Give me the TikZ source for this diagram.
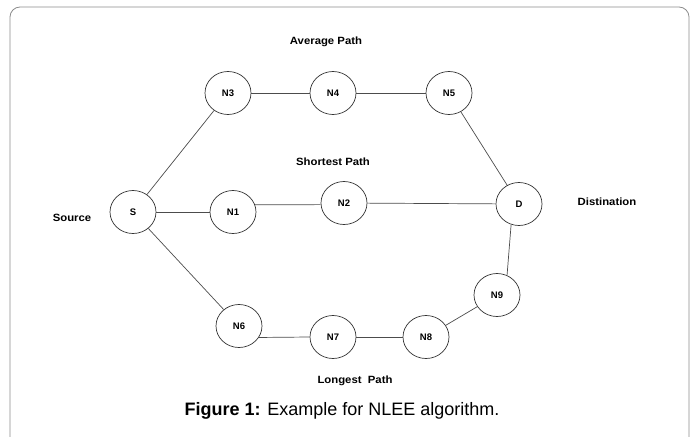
\documentclass[tikz,border=0pt]{standalone}
\usepackage{fontspec}
\setmainfont{Liberation Sans}
\usetikzlibrary{shapes.geometric}
\begin{document}
\begin{tikzpicture}[x=1pt,y=-1pt,
  nd/.style={draw=black!80,line width=0.7pt,ellipse,minimum width=46pt,minimum height=43pt,inner sep=0pt,font=\fontsize{9.5}{10}\selectfont\bfseries,fill=white},
  lbl/.style={font=\fontsize{10.5}{11}\selectfont\bfseries,inner sep=0pt,xscale=1.08},
  ed/.style={draw=black!70,line width=0.7pt}]
\useasboundingbox (0,0) rectangle (695,436);
\draw[black!45,line width=0.8pt,rounded corners=10pt] (10,450) -- (10,7) -- (689,7) -- (689,450);
\node[nd] (S) at (133,212) {S};
\node[nd] (N1) at (233,212) {N1};
\node[nd] (N2) at (344,203) {N2};
\node[nd] (D) at (519,204) {D};
\node[nd] (N3) at (228,93) {N3};
\node[nd] (N4) at (333,93) {N4};
\node[nd] (N5) at (449,93) {N5};
\node[nd] (N6) at (239,326) {N6};
\node[nd] (N7) at (333,337) {N7};
\node[nd] (N8) at (426,337) {N8};
\node[nd] (N9) at (497,295) {N9};
\draw[ed] (S) -- (N3);
\draw[ed] (S) -- (N1);
\draw[ed] (S) -- (N6);
\draw[ed] (N1.18) -- (N2.184);
\draw[ed] (N2) -- (D);
\draw[ed] (N3) -- (N4);
\draw[ed] (N4) -- (N5);
\draw[ed] (N5) -- (D);
\draw[ed] (N6.-30) -- (N7.west);
\draw[ed] (N7) -- (N8);
\draw[ed] (N8) -- (N9);
\draw[ed] (N9.63) -- (D.-111);
\node[lbl] (avg) at (326,42) {Average Path};
\node[lbl] (sh) at (333,162) {Shortest Path};
\node[lbl] (lo) at (355,381) {Longest\ \ Path};
\node[lbl] (src) at (72,218) {Source};
\node[lbl] (dst) at (607,202) {Distination};
\node[inner sep=0pt,font=\fontsize{18}{20}\selectfont] (cap) at (342,411) {\textbf{Figure 1:} Example for NLEE algorithm.};
\end{tikzpicture}
\end{document}
